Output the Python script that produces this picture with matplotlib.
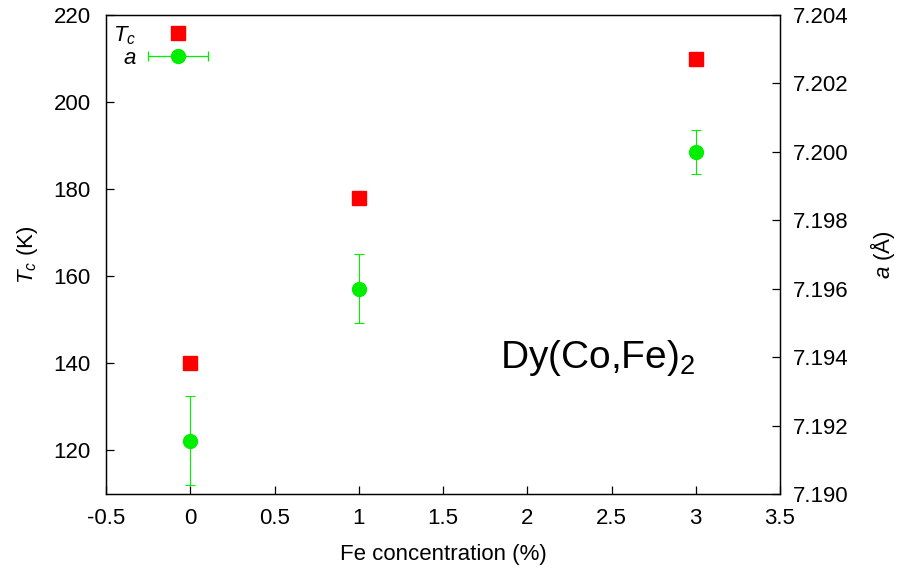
import numpy as np
import matplotlib
matplotlib.use('Agg')
import matplotlib.pyplot as plt
from matplotlib.legend_handler import HandlerErrorbar
from matplotlib.ticker import FormatStrFormatter, FuncFormatter

plt.rcParams['font.family'] = ['Liberation Sans', 'DejaVu Sans']
plt.rcParams['mathtext.fontset'] = 'custom'
plt.rcParams['mathtext.rm'] = 'Liberation Sans'
plt.rcParams['mathtext.it'] = 'Liberation Sans:italic'

# data
fe_conc = [0, 1, 3]
tc = [140, 178, 210]
lattice = [7.19155, 7.1960, 7.2000]
lattice_err = [0.0013, 0.0010, 0.00065]

red = '#ff0000'
green = '#00ee00'
fs = 16

fig = plt.figure(figsize=(9.01, 5.70), dpi=100)
ax = fig.add_axes([106/901, 1-494/570, (780-106)/901, (494-15)/570])
ax2 = ax.twinx()

ax.plot(fe_conc, tc, 's', color=red, ms=10, mec=red, label='$T_c$', zorder=3)
eb = ax2.errorbar(fe_conc, lattice, yerr=lattice_err, fmt='o', color=green, ms=10,
                  ecolor=green, elinewidth=0.8, capsize=3.5, capthick=0.8, label='$a$')

ax.set_xlim(-0.5, 3.5)
ax.set_ylim(110, 220)
ax2.set_ylim(7.190, 7.204)
ax.set_xticks(np.arange(-0.5, 3.51, 0.5))
ax.set_yticks(np.arange(120, 221, 20))
ax2.set_yticks(np.arange(7.190, 7.2041, 0.002))
ax.xaxis.set_major_formatter(FuncFormatter(lambda v, p: '%g' % v))
ax2.yaxis.set_major_formatter(FormatStrFormatter('%.3f'))

for a in (ax, ax2):
    for s in a.spines.values():
        s.set_linewidth(0.9)
ax.tick_params(axis='both', direction='in', length=6, width=0.9, labelsize=fs,
               top=False, right=False, pad=10)
ax.tick_params(axis='y', pad=11)
ax2.tick_params(axis='y', direction='in', length=6, width=0.9, labelsize=fs, pad=9)

ax.set_xlabel('Fe concentration (%)', fontsize=fs, labelpad=11)
ax.set_ylabel('$T_c$ (K)', fontsize=fs, labelpad=10)
ax2.set_ylabel('$a$ (Å)', fontsize=fs, labelpad=14)

ax.text(1.838, 139.0, 'Dy(Co,Fe)$_2$', fontsize=28, ha='left', va='baseline')

h1, l1 = ax.get_legend_handles_labels()
proxy = ax2.errorbar([np.nan], [np.nan], xerr=[np.nan], fmt='o', color=green, ms=10,
                     ecolor=green, elinewidth=0.9, capsize=3.5, capthick=0.9)
leg = ax2.legend(h1 + [proxy], ['$T_c$', '$a$'], loc='upper left',
                 bbox_to_anchor=(102/901, 1-13/570), bbox_transform=fig.transFigure,
                 frameon=False, markerfirst=False, fontsize=fs, borderpad=0,
                 handlelength=2.75, handletextpad=0.5, labelspacing=0.05,
                 handler_map={type(proxy): HandlerErrorbar(xerr_size=1.35)})

fig.savefig('out.png', dpi=100)
